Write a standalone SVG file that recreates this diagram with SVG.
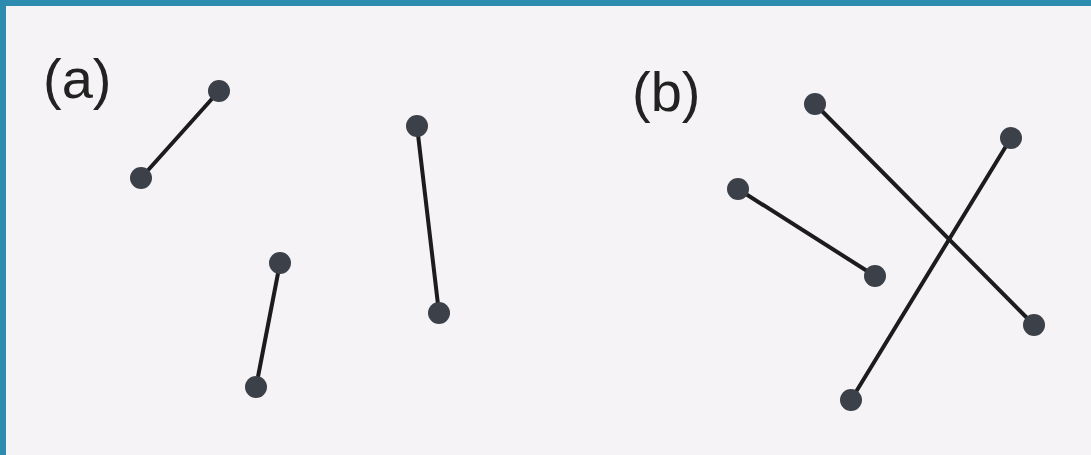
<svg xmlns="http://www.w3.org/2000/svg" width="1091" height="455" viewBox="0 0 1091 455">
  <style>
    .lbl { font-family: "Liberation Sans", Arial, sans-serif; font-size: 56px; fill: #222; }
    .edge { stroke: #1c1c1e; stroke-width: 4; stroke-linecap: round; fill: none; }
    .dot { fill: #3b4049; }
  </style>
  <rect x="0" y="0" width="1091" height="455" fill="#2e8bb0"/>
  <rect x="6" y="6" width="1085" height="449" fill="#f5f3f5"/>
  <text class="lbl" x="43" y="98">(a)</text>
  <text class="lbl" x="632" y="111">(b)</text>
  <g id="connectors">
    <line class="edge" x1="141" y1="178" x2="219" y2="91"/>
    <line class="edge" x1="417" y1="126" x2="439" y2="313"/>
    <line class="edge" x1="280" y1="263" x2="256" y2="387"/>
    <line class="edge" x1="815" y1="104" x2="1034" y2="325"/>
    <line class="edge" x1="738" y1="189" x2="875" y2="276"/>
    <line class="edge" x1="1011" y1="138" x2="851" y2="400"/>
  </g>
  <g id="n-a1a"><circle class="dot" cx="141" cy="178" r="11"/></g>
  <g id="n-a1b"><circle class="dot" cx="219" cy="91" r="11"/></g>
  <g id="n-a2a"><circle class="dot" cx="417" cy="126" r="11"/></g>
  <g id="n-a2b"><circle class="dot" cx="439" cy="313" r="11"/></g>
  <g id="n-a3a"><circle class="dot" cx="280" cy="263" r="11"/></g>
  <g id="n-a3b"><circle class="dot" cx="256" cy="387" r="11"/></g>
  <g id="n-b1a"><circle class="dot" cx="815" cy="104" r="11"/></g>
  <g id="n-b1b"><circle class="dot" cx="1034" cy="325" r="11"/></g>
  <g id="n-b2a"><circle class="dot" cx="738" cy="189" r="11"/></g>
  <g id="n-b2b"><circle class="dot" cx="875" cy="276" r="11"/></g>
  <g id="n-b3a"><circle class="dot" cx="1011" cy="138" r="11"/></g>
  <g id="n-b3b"><circle class="dot" cx="851" cy="400" r="11"/></g>
</svg>
